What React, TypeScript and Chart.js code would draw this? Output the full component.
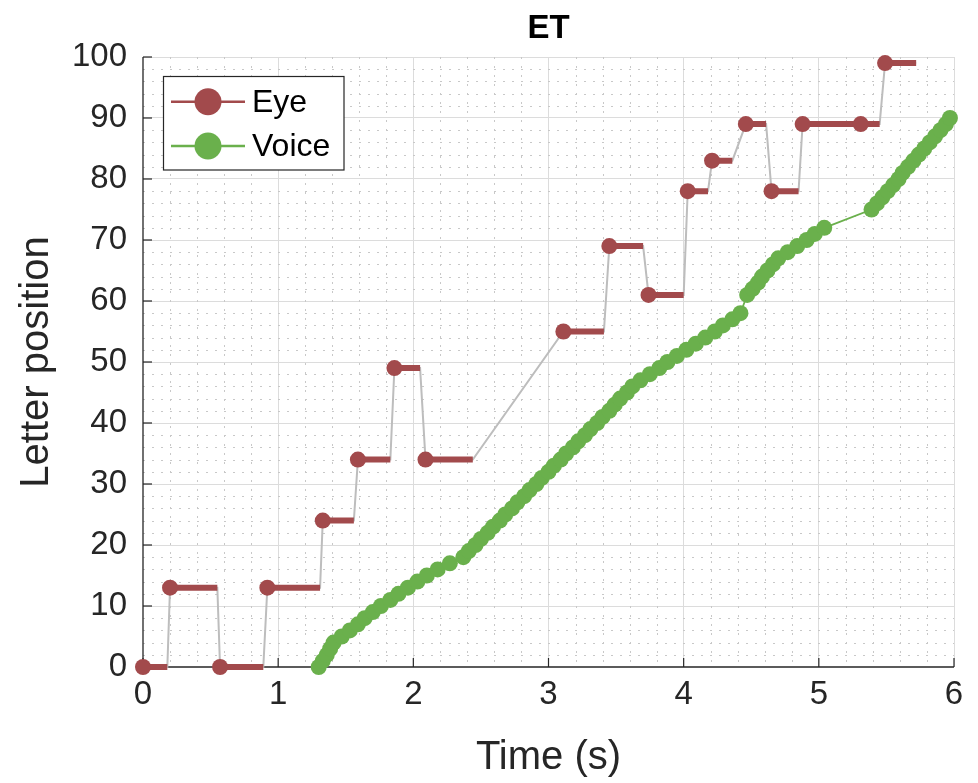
import React, { useEffect, useRef } from "react";
import { Chart, registerables } from "chart.js";

Chart.register(...registerables);

// ---------- data ----------
const eyeStart = [0, 0.2, 0.57, 0.92, 1.33, 1.59, 1.86, 2.09, 3.11, 3.45, 3.74, 4.03, 4.21, 4.46, 4.65, 4.88, 5.31, 5.49];
const eyeEnd = [0.18, 0.55, 0.89, 1.31, 1.56, 1.83, 2.05, 2.44, 3.41, 3.7, 4.0, 4.18, 4.36, 4.61, 4.85, 5.31, 5.45, 5.72];
const eyePos = [0, 13, 0, 13, 24, 34, 49, 34, 55, 69, 61, 78, 83, 89, 78, 89, 89, 99];

const voiceTime = [
  1.3, 1.33, 1.36, 1.385, 1.41, 1.47, 1.53, 1.59, 1.64, 1.7, 1.76, 1.83, 1.89, 1.96, 2.03, 2.1, 2.18, 2.27,
  2.37, 2.41, 2.46, 2.5, 2.55, 2.59, 2.64, 2.68, 2.73, 2.77, 2.82, 2.86, 2.91, 2.95, 3.0, 3.04, 3.09, 3.13,
  3.18, 3.22, 3.27, 3.31, 3.36, 3.4, 3.45, 3.49, 3.53, 3.58, 3.62, 3.68, 3.75, 3.82, 3.88, 3.95, 4.02, 4.09,
  4.16, 4.23, 4.29, 4.36, 4.42,
  4.47, 4.51, 4.55, 4.58, 4.62, 4.66, 4.7, 4.77, 4.84, 4.91, 4.97, 5.04,
  5.39, 5.43, 5.47, 5.51, 5.55, 5.59, 5.62, 5.66, 5.7, 5.74, 5.78, 5.82, 5.86, 5.9, 5.94, 5.97,
];
const voicePos = [
  0, 1, 2, 3, 4, 5, 6, 7, 8, 9, 10, 11, 12, 13, 14, 15, 16, 17,
  18, 19, 20, 21, 22, 23, 24, 25, 26, 27, 28, 29, 30, 31, 32, 33, 34, 35,
  36, 37, 38, 39, 40, 41, 42, 43, 44, 45, 46, 47, 48, 49, 50, 51, 52, 53,
  54, 55, 56, 57, 58,
  61, 62, 63, 64, 65, 66, 67, 68, 69, 70, 71, 72,
  75, 76, 77, 78, 79, 80, 81, 82, 83, 84, 85, 86, 87, 88, 89, 90,
];

const xMin = 0, xMax = 6, xStep = 1, xMinorStep = 0.2;
const yMin = 0, yMax = 100, yStep = 10, yMinorStep = 2;
const seriesNames = ["Eye", "Voice"];
const titleText = "ET";
const xTitle = "Time (s)";
const yTitle = "Letter position";

// ---------- styles ----------
const FONT = "'Liberation Sans', Arial, Helvetica, sans-serif";
const eyeColor = "#A24A4C";
const voiceColor = "#6AB04C";
const connectorColor = "#BDBDBD";
const axisColor = "#262626";

const decorPlugin = {
  id: "matlabDecor",
  beforeDatasetsDraw(chart: any) {
    const { ctx, chartArea, scales } = chart;
    const { left, right, top, bottom } = chartArea;
    const xs = scales.x, ys = scales.y;
    ctx.save();
    // minor grid
    ctx.strokeStyle = "#c8c8c8";
    ctx.lineWidth = 1;
    ctx.setLineDash([2, 7]);
    const nx = Math.round((xMax - xMin) / xMinorStep);
    for (let i = 1; i < nx; i++) {
      const v = xMin + i * xMinorStep;
      if (Math.abs(v / xStep - Math.round(v / xStep)) < 1e-6) continue;
      const px = Math.round(xs.getPixelForValue(v)) + 0.5;
      ctx.beginPath(); ctx.moveTo(px, top); ctx.lineTo(px, bottom); ctx.stroke();
    }
    const ny = Math.round((yMax - yMin) / yMinorStep);
    for (let i = 1; i < ny; i++) {
      const v = yMin + i * yMinorStep;
      if (Math.abs(v / yStep - Math.round(v / yStep)) < 1e-6) continue;
      const py = Math.round(ys.getPixelForValue(v)) + 0.5;
      ctx.beginPath(); ctx.moveTo(left, py); ctx.lineTo(right, py); ctx.stroke();
    }
    ctx.setLineDash([]);
    // axis lines
    ctx.strokeStyle = axisColor;
    ctx.lineWidth = 1.3;
    ctx.beginPath();
    ctx.moveTo(left, top); ctx.lineTo(left, bottom); ctx.lineTo(right, bottom);
    ctx.stroke();
    // inward ticks
    const tl = 9;
    ctx.lineWidth = 1.2;
    for (let v = xMin; v <= xMax + 1e-9; v += xStep) {
      const px = xs.getPixelForValue(v);
      ctx.beginPath(); ctx.moveTo(px, bottom); ctx.lineTo(px, bottom - tl); ctx.stroke();
    }
    for (let v = yMin; v <= yMax + 1e-9; v += yStep) {
      const py = ys.getPixelForValue(v);
      ctx.beginPath(); ctx.moveTo(left, py); ctx.lineTo(left + tl, py); ctx.stroke();
    }
    ctx.restore();
  },
  afterDraw(chart: any) {
    const { ctx } = chart;
    ctx.save();
    const bx = 163.5, by = 76.5, bw = 180.5, bh = 93.5;
    ctx.fillStyle = "#ffffff";
    ctx.fillRect(bx, by, bw, bh);
    ctx.strokeStyle = axisColor;
    ctx.lineWidth = 1.2;
    ctx.strokeRect(bx, by, bw, bh);
    const colors = [eyeColor, voiceColor];
    const rows = [101.7, 146];
    rows.forEach((ry, i) => {
      ctx.strokeStyle = colors[i];
      ctx.lineWidth = 2.5;
      ctx.beginPath(); ctx.moveTo(171, ry); ctx.lineTo(245, ry); ctx.stroke();
      ctx.fillStyle = colors[i];
      ctx.beginPath(); ctx.arc(208, ry, 13.5, 0, Math.PI * 2); ctx.fill();
      ctx.fillStyle = "#000000";
      ctx.font = `32px ${FONT}`;
      ctx.textAlign = "left";
      ctx.textBaseline = "middle";
      ctx.fillText(seriesNames[i], 252, ry + 1);
    });
    ctx.restore();
  },
};

export default function App() {
  const ref = useRef<HTMLCanvasElement | null>(null);

  useEffect(() => {
    if (!ref.current) return;

    const connector: any[] = [];
    const segments: any[] = [];
    eyeStart.forEach((s, i) => {
      connector.push({ x: s, y: eyePos[i] });
      connector.push({ x: eyeEnd[i], y: eyePos[i] });
      segments.push({ x: s, y: eyePos[i], m: 1 });
      segments.push({ x: eyeEnd[i], y: eyePos[i], m: 0 });
      segments.push({ x: eyeEnd[i], y: null, m: 0 });
    });
    const voice = voiceTime.map((t, i) => ({ x: t, y: voicePos[i] }));

    const tickFont = { family: FONT, size: 33 };

    const chart = new Chart(ref.current, {
      type: "line",
      data: {
        datasets: [
          {
            label: "Voice",
            data: voice,
            borderColor: voiceColor,
            backgroundColor: voiceColor,
            borderWidth: 1.8,
            pointRadius: 8,
            pointHoverRadius: 8,
            pointBorderWidth: 0,
            pointBackgroundColor: voiceColor,
            clip: false as any,
            order: 1,
          },
          {
            label: "Eye",
            data: segments,
            borderColor: eyeColor,
            backgroundColor: eyeColor,
            borderWidth: 6,
            borderCapStyle: "butt",
            spanGaps: false,
            pointRadius: (c: any) => (c.raw && c.raw.m ? 8 : 0),
            pointHoverRadius: (c: any) => (c.raw && c.raw.m ? 8 : 0),
            pointBorderWidth: 0,
            pointBackgroundColor: eyeColor,
            clip: false as any,
            order: 2,
          },
          {
            label: "eye-connector",
            data: connector,
            borderColor: connectorColor,
            borderWidth: 2,
            pointRadius: 0,
            pointHoverRadius: 0,
            clip: false as any,
            order: 3,
          },
        ] as any,
      },
      options: {
        animation: false,
        responsive: false,
        devicePixelRatio: 1,
        events: [],
        layout: { padding: { left: 0, right: 24, top: 0, bottom: 0 } },
        plugins: {
          legend: { display: false },
          tooltip: { enabled: false },
          title: {
            display: true,
            text: titleText,
            fullSize: false,
            color: "#000000",
            font: { family: FONT, size: 33, weight: "bold" },
            padding: { top: 9, bottom: 8.4 },
          },
        },
        scales: {
          x: {
            type: "linear",
            min: xMin,
            max: xMax,
            afterFit: (s: any) => { s.height = 116; },
            ticks: { stepSize: xStep, color: axisColor, font: tickFont, padding: 8, maxRotation: 0 },
            grid: {
              color: (c: any) => (c.tick && c.tick.value === xMin ? "rgba(0,0,0,0)" : "#dcdcdc"),
              lineWidth: 1,
              drawTicks: false,
            },
            border: { display: false },
            title: {
              display: true,
              text: xTitle,
              color: axisColor,
              font: { family: FONT, size: 40 },
              padding: { top: 0, bottom: 1 },
            },
          },
          y: {
            type: "linear",
            min: yMin,
            max: yMax,
            afterFit: (s: any) => { s.width = 143; },
            ticks: { stepSize: yStep, color: axisColor, font: tickFont, padding: 16 },
            grid: {
              color: (c: any) => (c.tick && c.tick.value === yMin ? "rgba(0,0,0,0)" : "#dcdcdc"),
              lineWidth: 1,
              drawTicks: false,
            },
            border: { display: false },
            title: {
              display: true,
              text: yTitle,
              color: axisColor,
              font: { family: FONT, size: 40 },
              padding: { top: 13, bottom: 0 },
            },
          },
        },
      } as any,
      plugins: [decorPlugin as any],
    });

    return () => chart.destroy();
  }, []);

  return (
    <div style={{ position: "absolute", left: 0, top: 0, width: 978, height: 783, background: "#fff" }}>
      <canvas ref={ref} width={978} height={783} style={{ display: "block" }} />
    </div>
  );
}
